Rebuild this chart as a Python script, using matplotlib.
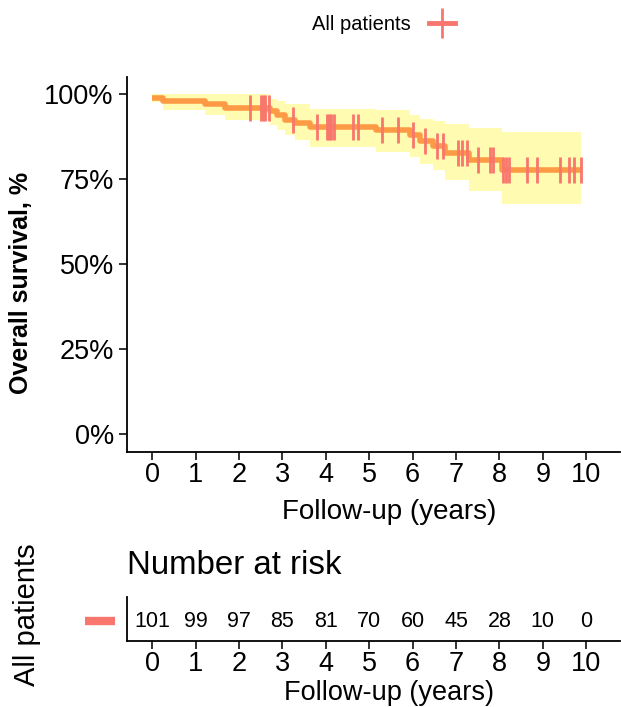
import numpy as np
import matplotlib.pyplot as plt
from matplotlib.lines import Line2D

plt.rcParams['font.family'] = ['Liberation Sans', 'DejaVu Sans']

# Kaplan-Meier estimate (all patients): step times, survival and 95% CI
event_times = [0.0, 0.25, 1.22, 1.68, 2.72, 2.88, 3.06, 3.30, 3.64, 5.15, 5.94, 6.17, 6.47, 6.75, 7.30, 8.06]
surv = [0.990, 0.980, 0.970, 0.960, 0.950, 0.940, 0.925, 0.915, 0.905, 0.894, 0.879, 0.862, 0.848, 0.828, 0.806, 0.776]
lower = [0.977, 0.953, 0.938, 0.923, 0.909, 0.894, 0.879, 0.865, 0.845, 0.830, 0.816, 0.796, 0.776, 0.747, 0.715, 0.676]
upper = [1.0, 1.0, 1.0, 1.0, 0.987, 0.979, 0.972, 0.970, 0.958, 0.953, 0.940, 0.928, 0.920, 0.914, 0.901, 0.889]
last_followup = 9.88

censor_times = [2.26, 2.50, 2.55, 2.60, 2.70, 3.25, 3.80, 4.03, 4.08, 4.13, 4.20, 4.63, 4.75,
                5.30, 5.67, 6.01, 6.29, 6.57, 6.71, 7.05, 7.14, 7.26, 7.51, 7.79, 7.86,
                8.09, 8.16, 8.23, 8.64, 8.87, 9.40, 9.61, 9.72, 9.88]

risk_years = [0, 1, 2, 3, 4, 5, 6, 7, 8, 9, 10]
at_risk = [101, 99, 97, 85, 81, 70, 60, 45, 28, 10, 0]

line_col = '#FD9A45'
mark_col = '#F8766D'
ci_col = '#FFFBB0'

fig = plt.figure(figsize=(6.21, 7.07), dpi=100)
ax = fig.add_axes([0.2045, 0.3607, 0.794, 0.530])

t = np.append(event_times, last_followup)
s = np.append(surv, surv[-1])
lo = np.append(lower, lower[-1])
hi = np.append(upper, upper[-1])

ax.fill_between(t, lo, hi, step='post', color=ci_col, linewidth=0)
ax.step(t, s, where='post', color=line_col, lw=4, solid_capstyle='butt')

idx = np.searchsorted(event_times, censor_times, side='right') - 1
cs = np.array(surv)[idx]
ax.plot(censor_times, cs, ls='none', marker='|', markersize=19, mew=2, color=mark_col)

ax.set_xlim(-0.58, 10.78)
ax.set_ylim(-0.052, 1.05)
ax.set_xticks(risk_years)
ax.set_yticks([0, 0.25, 0.5, 0.75, 1.0])
ax.set_yticklabels(['0%', '25%', '50%', '75%', '100%'])
ax.tick_params(axis='x', labelsize=19.5, length=6, width=1.3, color='#222222', pad=1)
ax.tick_params(axis='y', labelsize=19.5, length=6, width=1.3, color='#222222')
ax.spines['top'].set_visible(False)
ax.spines['right'].set_visible(False)
for sp in ('left', 'bottom'):
    ax.spines[sp].set_linewidth(1.3)
ax.set_xlabel('Follow-up (years)', fontsize=20)
ax.xaxis.set_label_coords(0.531, -0.125)
ax.set_ylabel('Overall survival, %', fontsize=18, fontweight='bold')
ax.yaxis.set_label_coords(-0.19, 0.45)

handle = Line2D([], [], color=mark_col, lw=3.5, marker='|', markersize=22, mew=2)
fig.legend([handle], ['All patients'], loc='center', bbox_to_anchor=(0.617, 0.965),
           frameon=False, fontsize=14.5, markerfirst=False, handlelength=1.3, handletextpad=0.9)

# number-at-risk table
rax = fig.add_axes([0.2045, 0.0934, 0.794, 0.062])
rax.set_xlim(-0.58, 10.78)
rax.set_ylim(0, 1)
for yr, n in zip(risk_years, at_risk):
    rax.text(yr, 0.45, str(n), ha='center', va='center', fontsize=15.5)
rax.set_xticks(risk_years)
rax.set_yticks([])
rax.tick_params(labelsize=19.5, length=6, width=1.3, color='#222222', pad=1)
rax.spines['top'].set_visible(False)
rax.spines['right'].set_visible(False)
for sp in ('left', 'bottom'):
    rax.spines[sp].set_linewidth(1.3)
rax.set_xlabel('Follow-up (years)', fontsize=19.5, va='bottom')
rax.xaxis.set_label_coords(0.531, -1.49)
rax.set_title('Number at risk', loc='left', fontsize=23.8, pad=17, x=0.0)
rax.plot([-1.54, -0.85], [0.45, 0.45], color=mark_col, lw=6, clip_on=False, solid_capstyle='butt')
fig.text(0.043, 0.13, 'All patients', rotation=90, ha='center', va='center', fontsize=21)

fig.savefig('out.png', dpi=100)
